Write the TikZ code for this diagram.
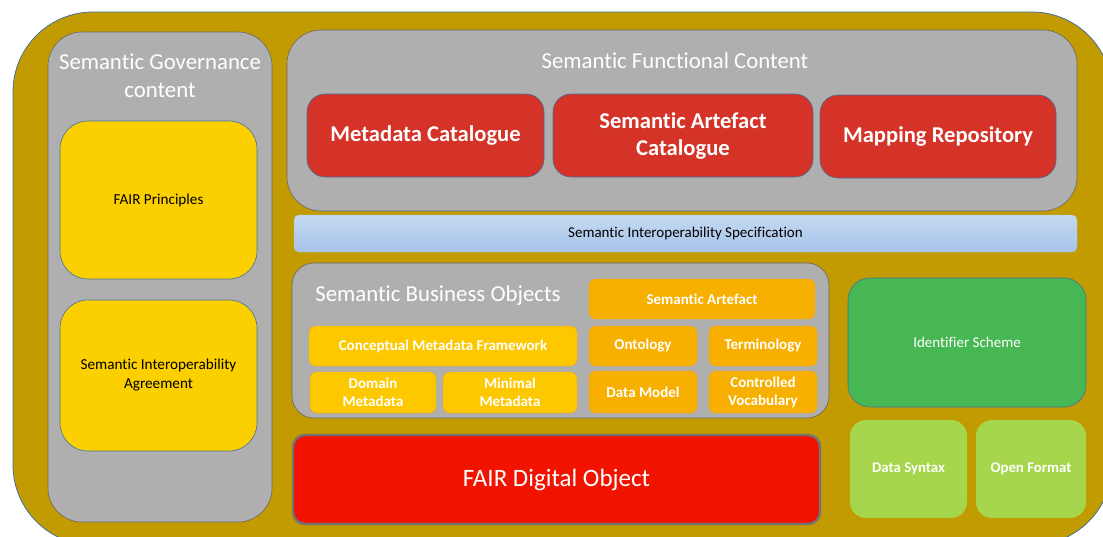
\documentclass[tikz,border=0pt]{standalone}
\usepackage{fontspec}
\setmainfont{Carlito}[Ligatures={NoCommon}]
\definecolor{frameGold}{HTML}{C29B00}
\definecolor{panelGray}{HTML}{AFAFAF}
\definecolor{edgeBlue}{HTML}{41719C}
\definecolor{govYellow}{HTML}{FCD000}
\definecolor{funcRed}{HTML}{D53228}
\definecolor{metaYellow}{HTML}{FDC800}
\definecolor{artOrange}{HTML}{F7AF00}
\definecolor{idGreen}{HTML}{47B753}
\definecolor{fmtGreen}{HTML}{A6D64B}
\definecolor{fdoRed}{HTML}{F21200}
\definecolor{specTop}{HTML}{C5DAF1}
\definecolor{specBottom}{HTML}{A6C3EA}

\begin{document}
\begin{tikzpicture}[
    x=1pt, y=-1pt,
    box/.style={rounded corners=#1, inner sep=0pt, align=center},
    box/.default=12pt,
    panel/.style={box=34pt, fill=panelGray, draw=gray!80!black, line width=0.6pt},
    panel title/.style={text=white, font=\fontsize{22.8}{28}\selectfont, align=center},
    gov box/.style={box=28pt, fill=govYellow, draw=edgeBlue, line width=0.6pt,
        font=\fontsize{15.2}{19}\selectfont},
    func box/.style={box=18pt, fill=funcRed, draw=edgeBlue, line width=0.6pt,
        text=white, font=\bfseries\fontsize{22.6}{27}\selectfont},
    meta box/.style={box=7pt, fill=metaYellow, draw=orange!70!yellow, line width=0.4pt,
        text=white, font=\bfseries\fontsize{15}{18}\selectfont},
    art box/.style={meta box, fill=artOrange}
]
    \useasboundingbox (0,0) rectangle (1103,536);
    \clip (0,0) rectangle (1103,536);

    % outer frame
    \node[box=80pt, fill=frameGold, draw=edgeBlue, line width=0.8pt,
        minimum width=1099pt, minimum height=533pt] (frame) at (562.5,278.5) {};

    % governance column
    \node[panel, minimum width=224pt, minimum height=490pt] (gov) at (160,277) {};
    \node[panel title] (govtitle) at (160,76) {Semantic Governance\\content};
    \node[gov box, minimum width=197pt, minimum height=158pt] (fairp) at (158.5,200) {FAIR Principles};
    \node[gov box, minimum width=197pt, minimum height=151pt] (sia) at (158.5,375.5)
        {Semantic Interoperability\\Agreement};

    % functional content
    \node[panel, minimum width=790pt, minimum height=181pt] (func) at (682,120.5) {};
    \node[panel title] (functitle) at (675,61) {Semantic Functional Content};
    \node[func box, minimum width=237pt, minimum height=83pt] (mdcat) at (425.5,135.5) {Metadata Catalogue};
    \node[func box, minimum width=260pt, minimum height=83pt] (sacat) at (683,135.5) {Semantic Artefact\\Catalogue};
    \node[func box, minimum width=236pt, minimum height=83pt] (maprep) at (938,136.5) {Mapping Repository};

    % specification bar
    \node[box=5pt, top color=specTop, bottom color=specBottom, draw=specTop!80!edgeBlue, line width=0.4pt,
        minimum width=783pt, minimum height=37pt, font=\fontsize{15}{18}\selectfont] (spec) at (685.5,233.5)
        {Semantic Interoperability Specification};

    % business objects
    \node[panel, box=22pt, minimum width=537pt, minimum height=155pt] (sbo) at (560.5,340.5) {};
    \node[panel title] (sbotitle) at (438,296) {Semantic Business Objects};
    \node[art box, minimum width=226pt, minimum height=40pt] (semart) at (702,299) {Semantic Artefact};
    \node[meta box, minimum width=268pt, minimum height=40pt] (cmf) at (443,346) {Conceptual Metadata Framework};
    \node[meta box, minimum width=126pt, minimum height=41pt] (dommd) at (373,392.5) {Domain\\Metadata};
    \node[meta box, minimum width=134pt, minimum height=41pt] (minmd) at (510,392.5) {Minimal\\Metadata};
    \node[art box, minimum width=108pt, minimum height=40pt] (onto) at (643,346) {Ontology};
    \node[art box, minimum width=108pt, minimum height=40pt] (termi) at (763,346) {Terminology};
    \node[art box, minimum width=108pt, minimum height=42pt] (dmodel) at (643,392) {Data Model};
    \node[art box, minimum width=108pt, minimum height=42pt] (ctrlvoc) at (763,392) {Controlled\\Vocabulary};

    % identifiers and formats
    \node[box=22pt, fill=idGreen, draw=edgeBlue, line width=0.6pt, text=white,
        minimum width=238pt, minimum height=129pt, font=\fontsize{15}{18}\selectfont] (idsch) at (967,342.5)
        {Identifier Scheme};
    \node[box=16pt, fill=fmtGreen, text=white, minimum width=117pt, minimum height=98pt,
        font=\bfseries\fontsize{14.8}{18}\selectfont] (datasyn) at (908.5,469) {Data Syntax};
    \node[box=16pt, fill=fmtGreen, text=white, minimum width=110pt, minimum height=98pt,
        font=\bfseries\fontsize{14.8}{18}\selectfont] (openfmt) at (1031,469) {Open Format};

    % digital object
    \node[box=12pt, fill=fdoRed, draw=gray!90!black, line width=2.4pt, text=white,
        minimum width=527pt, minimum height=89pt, font=\fontsize{25}{30}\selectfont] (fdo) at (556.5,479.5)
        {FAIR Digital Object};
\end{tikzpicture}
\end{document}
